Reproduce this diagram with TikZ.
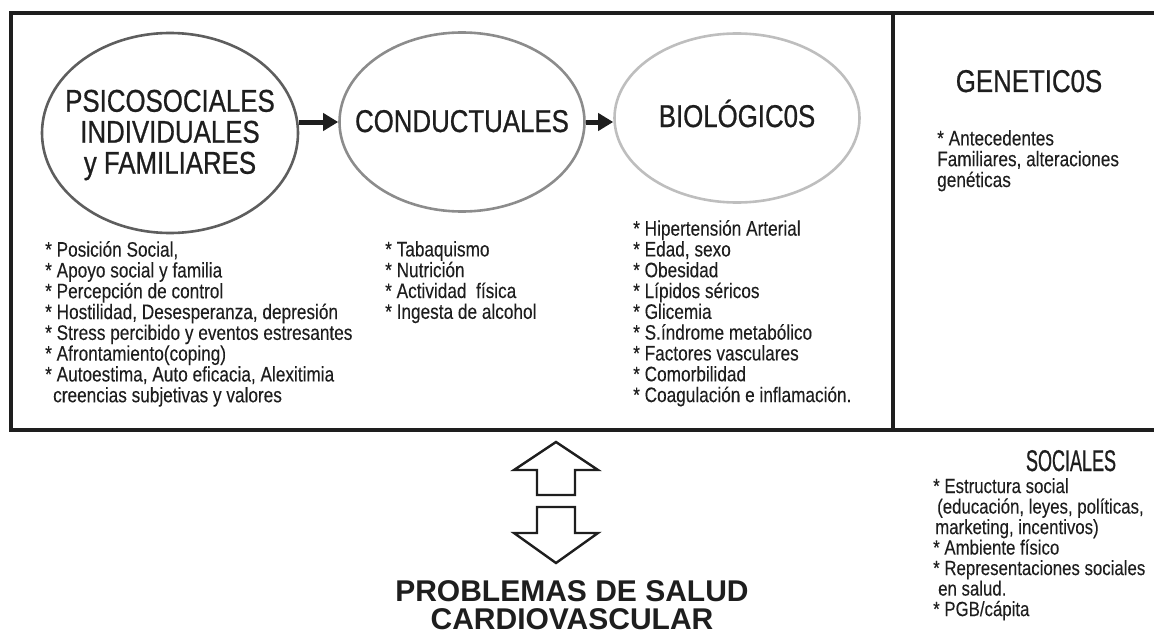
\documentclass[tikz,border=0pt]{standalone}
\usepackage{fontspec}
\setmainfont{Liberation Sans}
\newfontfamily\narrowsans[FakeStretch=0.82,FakeBold=0.15]{Liberation Sans}
\newfontfamily\headsans[FakeStretch=0.82,FakeBold=0.7]{Liberation Sans}
\newfontfamily\tightsans[FakeStretch=0.6,FakeBold=0.7]{Liberation Sans}
\usetikzlibrary{shapes.geometric,arrows.meta}
\definecolor{ink}{HTML}{1E1E1E}
\definecolor{edgeA}{HTML}{5E5E5E}
\definecolor{edgeB}{HTML}{8C8C8C}
\definecolor{edgeC}{HTML}{BEBEBE}

\begin{document}
\begin{tikzpicture}[x=1pt,y=-1pt,
    factor/.style={draw=#1,line width=2.6pt,ellipse,inner sep=0pt},
    heading/.style={font=\headsans\fontsize{31.5}{31}\selectfont,align=center,inner sep=0pt,text=ink},
    items/.style={font=\narrowsans\fontsize{21}{20.8}\selectfont,align=left,anchor=north west,inner sep=0pt,text=ink},
    flow/.style={draw=ink,line width=5pt,-{Triangle[length=15pt,width=17pt]}},
    hollow/.style={draw=ink,line width=2.4pt,line join=miter},
    frame/.style={draw=ink,line width=4.5pt}]
    \useasboundingbox (0,0) rectangle (1154,634);
    \coordinate (topleft) at (11,13);
    \coordinate (botleft) at (11,430);
    \draw[frame] (1160,13) -- (topleft) -- (botleft) -- (1160,430);
    \draw[frame,line width=3.5pt] (893,13) -- (893,430);

    \node[factor=edgeA,minimum width=256pt,minimum height=200pt] (psico) at (170,133) {};
    \node[factor=edgeB,minimum width=245pt,minimum height=179pt] (conduct) at (462,122) {};
    \node[factor=edgeC,minimum width=245pt,minimum height=169pt] (bio) at (737,118) {};
    \node[heading] (psicotext) at (170,135) {PSICOSOCIALES\\INDIVIDUALES\\y FAMILIARES};
    \node[heading,anchor=base] (conducttext) at (462,132) {CONDUCTUALES};
    \node[heading,anchor=base] (biotext) at (737,127) {BIOLÓGIC0S};
    \node[heading,anchor=base] (genetext) at (1029,92) {GENETIC0S};
    \draw[flow] (psico.east |- conduct.center) -- (conduct.west);
    \draw[flow] (conduct.east) -- (conduct.east -| bio.west);

    \node[items] (psicolist) at (45,241) {* Posición Social,\\* Apoyo social y familia\\* Percepción de control\\* Hostilidad, Desesperanza, depresión\\* Stress percibido y eventos estresantes\\* Afrontamiento(coping)\\* Autoestima, Auto eficacia, Alexitimia\\\hspace*{8pt}creencias subjetivas y valores};
    \node[items] (conductlist) at (385,241) {* Tabaquismo\\* Nutrición\\* Actividad\ \ física\\* Ingesta de alcohol};
    \node[items] (biolist) at (633,220) {* Hipertensión Arterial\\* Edad, sexo\\* Obesidad\\* Lípidos séricos\\* Glicemia\\* S.índrome metabólico\\* Factores vasculares\\* Comorbilidad\\* Coagulación e inflamación.};
    \node[items] (genelist) at (937,130) {* Antecedentes\\Familiares, alteraciones\\genéticas};

    \node[font=\tightsans\fontsize{30}{30}\selectfont,anchor=base,inner sep=0pt,text=ink] (socialtext) at (1071,471) {SOCIALES};
    \node[items,font=\narrowsans\fontsize{20.5}{20.5}\selectfont] (sociallist) at (933,478) {* Estructura social\\\hspace*{4pt}(educación, leyes, políticas,\\\hspace*{2pt}marketing, incentivos)\\* Ambiente físico\\* Representaciones sociales\\\hspace*{5pt}en salud.\\* PGB/cápita};

    \coordinate (uptip) at (556,442);
    \coordinate (downtip) at (556,563);
    \draw[hollow] (uptip) -- ++(42,28) -- ++(-23,0) -- ++(0,25) -- ++(-38,0) -- ++(0,-25) -- ++(-23,0) -- cycle;
    \draw[hollow] (downtip) -- ++(42,-30) -- ++(-23,0) -- ++(0,-26) -- ++(-38,0) -- ++(0,26) -- ++(-23,0) -- cycle;
    \node[font=\bfseries\fontsize{30}{28.5}\selectfont,align=center,anchor=north,inner sep=0pt,text=ink] (outcome) at (572,580) {PROBLEMAS DE SALUD\\CARDIOVASCULAR};
\end{tikzpicture}
\end{document}
